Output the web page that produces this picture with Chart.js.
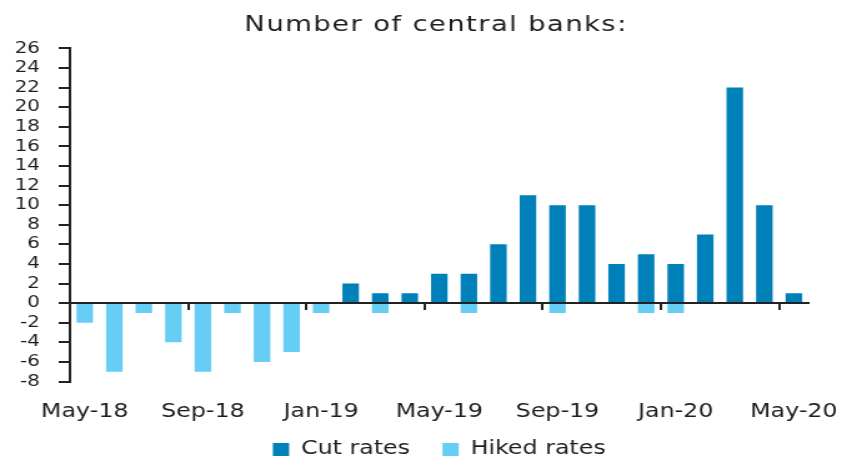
<!DOCTYPE html>
<html>
<head>
<meta charset="utf-8">
<script src="https://cdn.jsdelivr.net/npm/chart.js@4"></script>
<style>
  html, body { margin: 0; padding: 0; background: #fff; overflow: hidden; }
  #wrap { width: 690px; height: 460px; transform: scaleX(1.24928); transform-origin: 0 0; }
</style>
</head>
<body>
<div id="wrap"><canvas id="c"></canvas></div>
<script>
const months = ["May-18","Jun-18","Jul-18","Aug-18","Sep-18","Oct-18","Nov-18","Dec-18",
  "Jan-19","Feb-19","Mar-19","Apr-19","May-19","Jun-19","Jul-19","Aug-19","Sep-19","Oct-19",
  "Nov-19","Dec-19","Jan-20","Feb-20","Mar-20","Apr-20","May-20"];
const cutRates   = [0,0,0,0,0,0,0,0,0,2,1,1,3,3,6,11,10,10,4,5,4,7,22,10,1];
const hikedRates = [-2,-7,-1,-4,-7,-1,-6,-5,-1,0,-1,0,0,-1,0,0,-1,0,0,-1,-1,0,0,0,0];
const yMin = -8, yMax = 26, yStep = 2;

const FONT = "'DejaVu Sans', sans-serif";
const TXT = '#1e1e1e';

const titleSpacing = {
  id: 'titleSpacing',
  afterLayout(chart) {
    const t = chart.titleBlock;
    if (t && !t._wrapped) {
      const orig = t.draw.bind(t);
      t.draw = function() {
        const c = chart.ctx;
        c.save();
        c.letterSpacing = '1.1px';
        orig();
        c.restore();
      };
      t._wrapped = true;
    }
  }
};

new Chart(document.getElementById('c'), {
  type: 'bar',
  data: {
    labels: months,
    datasets: [
      { label: 'Cut rates', data: cutRates, backgroundColor: '#0080b8', barPercentage: 0.56, categoryPercentage: 1 },
      { label: 'Hiked rates', data: hikedRates, backgroundColor: '#66cdf5', barPercentage: 0.56, categoryPercentage: 1 }
    ]
  },
  plugins: [titleSpacing],
  options: {
    responsive: true,
    maintainAspectRatio: false,
    animation: false,
    layout: { padding: { left: 8, right: 0, top: 0, bottom: -9 } },
    plugins: {
      title: {
        display: true,
        text: 'Number of central banks:',
        color: TXT,
        font: { family: FONT, size: 22, weight: 'normal' },
        padding: { top: 12, bottom: 10 }
      },
      legend: {
        position: 'bottom',
        fullSize: false,
        labels: {
          color: TXT,
          font: { family: FONT, size: 19 },
          boxWidth: 13, boxHeight: 13,
          padding: 26
        }
      },
      tooltip: { enabled: false }
    },
    scales: {
      x: {
        stacked: true,
        position: 'bottom',
        afterFit: function(s) {
          s.height = 32.5;
          s._computeLabelArea = function() { return undefined; };
        },
        grid: { display: false, drawTicks: false },
        border: { display: false },
        ticks: {
          color: TXT,
          font: { family: FONT, size: 19 },
          autoSkip: false, maxRotation: 0, padding: 19,
          callback: function(v, i) { return i % 4 === 0 ? months[i] : ''; }
        }
      },
      x2: {
        type: 'category',
        position: { y: 0 },
        offset: true,
        z: 1,
        grid: {
          offset: true,
          drawOnChartArea: false,
          drawTicks: true,
          tickLength: 6,
          lineWidth: 2,
          color: function(ctx) { return (ctx.index > 0 && ctx.index < months.length && ctx.index % 4 === 0) ? '#222' : 'rgba(0,0,0,0)'; }
        },
        border: { display: true, color: '#222', width: 2 },
        ticks: { display: false }
      },
      y: {
        stacked: true,
        min: yMin, max: yMax,
        afterFit: function(s) { s.width = 48; },
        grid: { drawOnChartArea: false, drawTicks: true, tickLength: 9, color: '#222', lineWidth: 2 },
        border: { display: true, color: '#222', width: 2 },
        ticks: {
          stepSize: yStep, autoSkip: false, padding: 15,
          color: TXT,
          font: { family: FONT, size: 16 }
        }
      },
      yPad: {
        type: 'linear',
        position: 'right',
        afterFit: function(s) { s.width = 27; },
        grid: { display: false, drawTicks: false },
        border: { display: false },
        ticks: { display: false }
      }
    }
  }
});
</script>
</body>
</html>
